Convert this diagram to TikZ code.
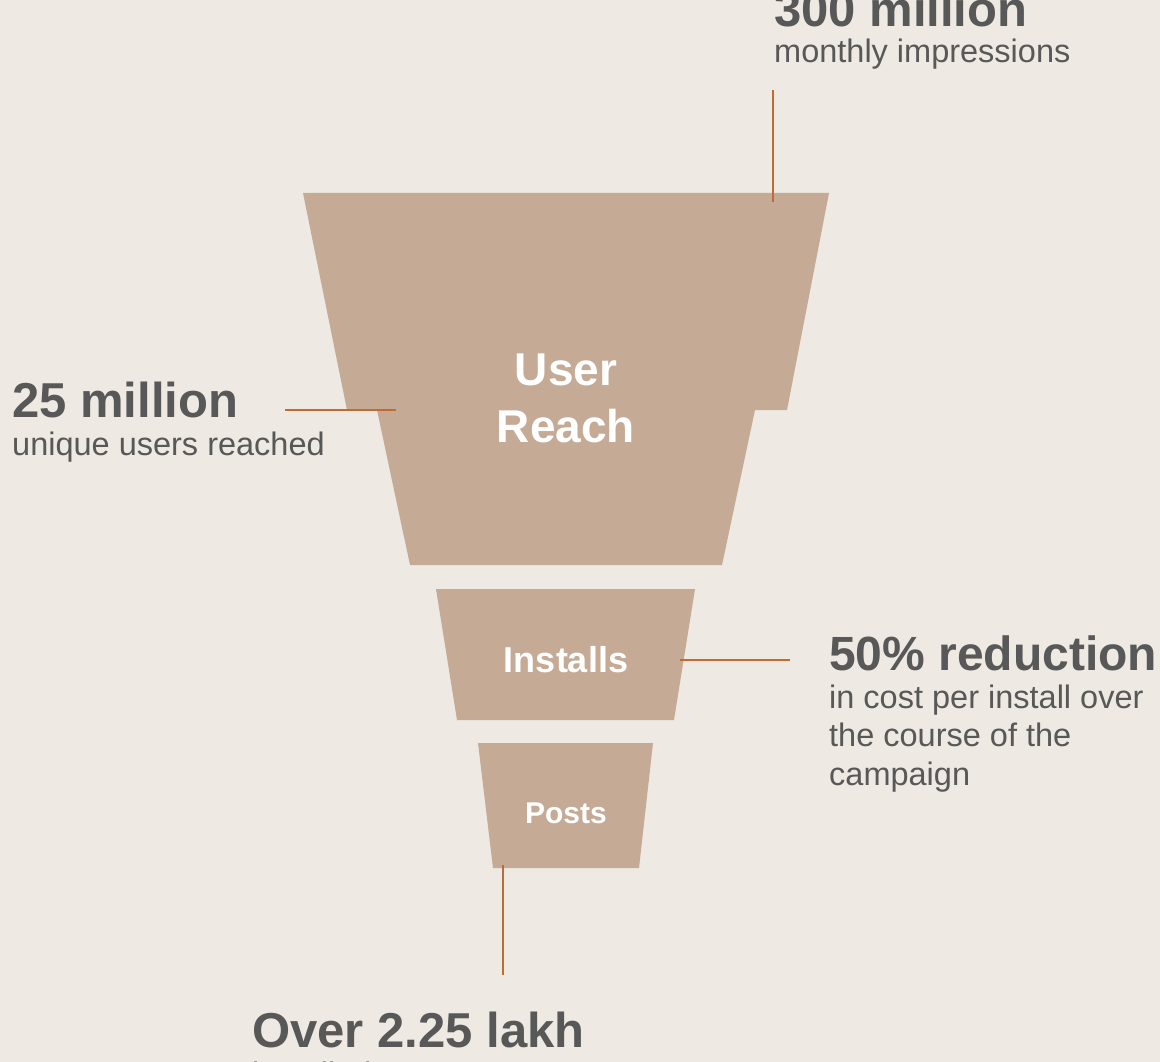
\documentclass[tikz,border=0pt]{standalone}
\usepackage{fontspec}
\setmainfont{Liberation Sans}
\usetikzlibrary{positioning}

\definecolor{paper}{HTML}{EEE9E2}
\definecolor{funnel}{HTML}{C5AA96}
\definecolor{leader}{HTML}{C06A35}
\definecolor{ink}{HTML}{585858}

\tikzset{
	bignum/.style={anchor=base west, inner sep=0pt, text=ink, font=\fontsize{49}{56}\selectfont\bfseries},
	smalltext/.style={anchor=base west, inner sep=0pt, text=ink, align=left, font=\fontsize{32.5}{38.5}\selectfont},
	stage/.style={anchor=base, inner sep=0pt, text=white, align=center},
	leaderline/.style={draw=leader, line width=2.2pt},
}

\begin{document}
\begin{tikzpicture}[x=1pt, y=-1pt]
			%%%%% START %%%%%
			
			\fill[paper] (0, 0) rectangle (1160, 1062);
			\useasboundingbox (0, 0) rectangle (1160, 1062);
			
			% funnel
			\fill[funnel] (303, 193) -- (829, 193) -- (787, 410) -- (755, 410) -- (722, 565)
				-- (410, 565) -- (377, 410) -- (347, 410) -- cycle;
			\fill[funnel] (436, 589) -- (695, 589) -- (674, 720) -- (457, 720) -- cycle;
			\fill[funnel] (478, 743) -- (653, 743) -- (639, 868) -- (493, 868) -- cycle;
			
			% base of a two-line node sits on its last line
			\node[stage, font=\fontsize{46}{57}\selectfont\bfseries] (reach) at (566, 442) {User\\Reach};
			\node[stage, font=\fontsize{36}{40}\selectfont\bfseries] (installs) at (566, 672) {Installs};
			\node[stage, font=\fontsize{30}{34}\selectfont\bfseries] (posts) at (566, 823) {Posts};
			
			% figures round the funnel
			\node[bignum] (impnum) at (774, 27) {300 million};
			\node[smalltext] (imptext) at (774, 63) {monthly impressions};
			
			\node[bignum] (usernum) at (12, 417) {25 million};
			\node[smalltext] (usertext) at (12, 455) {unique users reached};
			
			\node[bignum, font=\fontsize{48}{56}\selectfont\bfseries] (costnum) at (829, 670) {50\% reduction};
			\node[smalltext] (costtext) at (829, 785) {in cost per install over\\the course of the\\campaign};
			
			\node[bignum] (postnum) at (252, 1047) {Over 2.25 lakh};
			\node[smalltext] (posttext) at (252, 1085) {installed};
			
			% leader lines
			\coordinate (imp top) at (773, 90);
			\coordinate (imp foot) at (773, 202);
			\coordinate (user end) at (285, 410);
			\coordinate (user foot) at (396, 410);
			\coordinate (cost foot) at (680, 660);
			\coordinate (cost end) at (790, 660);
			\coordinate (post foot) at (503, 865);
			\coordinate (post end) at (503, 975);
			
			\draw[leaderline] (imp top) -- (imp foot);
			\draw[leaderline] (user end) -- (user foot);
			\draw[leaderline] (cost foot) -- (cost end);
			\draw[leaderline] (post foot) -- (post end);
			
			%%%%% END %%%%%
\end{tikzpicture}
\end{document}
